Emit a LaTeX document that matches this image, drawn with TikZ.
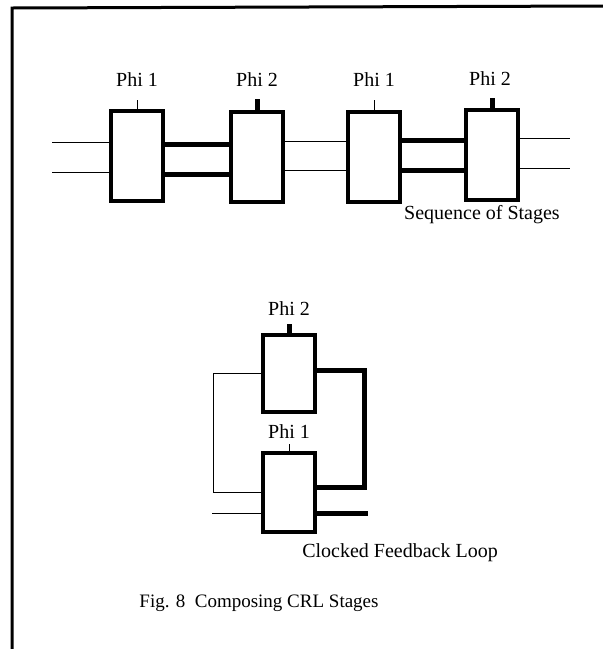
\documentclass[tikz,border=0pt]{standalone}
\usepackage{fontspec}
\setmainfont{Liberation Serif}
\begin{document}
\begin{tikzpicture}[x=1pt,y=-1pt,
  stage/.style={draw, line width=3.2pt, minimum width=52pt, minimum height=90pt, inner sep=0pt},
  thinwire/.style={line width=0.9pt},
  thickwire/.style={line width=5pt, line join=miter},
  lbl/.style={font=\fontsize{20}{22}\selectfont, inner sep=0pt},
  frameline/.style={line width=3pt}]
\useasboundingbox (0,0) rectangle (603,649);
\fill[white] (0,0) rectangle (603,649);
% frame
\draw[frameline] (12,649) -- (12,8) -- (603,6);

% --- sequence of stages ---
\node[stage] (b1) at (137,156) {};
\node[stage] (b2) at (257,157) {};
\node[stage] (b3) at (374,157) {};
\node[stage] (b4) at (492,155) {};

\node[lbl] (l1) at (137,80) {Phi 1};
\node[lbl] (l2) at (257,80) {Phi 2};
\node[lbl] (l3) at (374,80) {Phi 1};
\node[lbl] (l4) at (490,79) {Phi 2};

\coordinate (t1) at (137,100);
\coordinate (t2) at (257,99);
\coordinate (t3) at (374,100);
\coordinate (t4) at (492,98);
\draw[thinwire] (b1.north) -- (t1);
\draw[line width=5pt] (b2.north) -- (t2);
\draw[thinwire] (b3.north) -- (t3);
\draw[line width=5pt] (b4.north) -- (t4);

\coordinate (ia) at (52,142);
\coordinate (ib) at (52,172);
\draw[thinwire] (ia) -- (b1.west |- ia);
\draw[thinwire] (ib) -- (b1.west |- ib);

\draw[thickwire] (b1.east |- 0,144) -- (b2.west |- 0,144);
\draw[thickwire] (b1.east |- 0,174) -- (b2.west |- 0,174);

\draw[thinwire] (b2.east |- 0,141) -- (b3.west |- 0,141);
\draw[thinwire] (b2.east |- 0,170) -- (b3.west |- 0,170);

\draw[thickwire] (b3.east |- 0,140) -- (b4.west |- 0,140);
\draw[thickwire] (b3.east |- 0,170) -- (b4.west |- 0,170);

\coordinate (oa) at (570,138);
\coordinate (ob) at (570,168);
\draw[thinwire] (b4.east |- oa) -- (oa);
\draw[thinwire] (b4.east |- ob) -- (ob);

\node[lbl] (seq) at (482,215) {Sequence of Stages};

% --- clocked feedback loop ---
\node[stage, minimum height=77pt] (c2) at (289,373.5) {};
\node[stage, minimum height=79pt] (c1) at (289,492.5) {};
\node[lbl] (m2) at (289,309) {Phi 2};
\node[lbl] (m1) at (289,432) {Phi 1};
\coordinate (u2) at (289,324);
\coordinate (u1) at (289,444);
\draw[line width=5pt] (c2.north) -- (u2);
\draw[thinwire] (c1.north) -- (u1);

\coordinate (lt) at (213,373);
\coordinate (lb) at (213,492);
\draw[thinwire] (c2.west |- lt) -- (lt) -- (lb) -- (c1.west |- lb);

\coordinate (rt) at (364,370);
\coordinate (rb) at (364,487);
\draw[thickwire] (c2.east |- rt) -- (rt) -- (rb) -- (c1.east |- rb);

\coordinate (fin) at (212,513);
\coordinate (fout) at (368,513);
\draw[thinwire] (fin) -- (c1.west |- fin);
\draw[thickwire] (c1.east |- fout) -- (fout);

\node[lbl] (cfl) at (400,553) {Clocked Feedback Loop};
\node[lbl, font=\fontsize{19}{21}\selectfont] (cap) at (259,603) {Fig. 8\ \ Composing CRL Stages};
\end{tikzpicture}
\end{document}
